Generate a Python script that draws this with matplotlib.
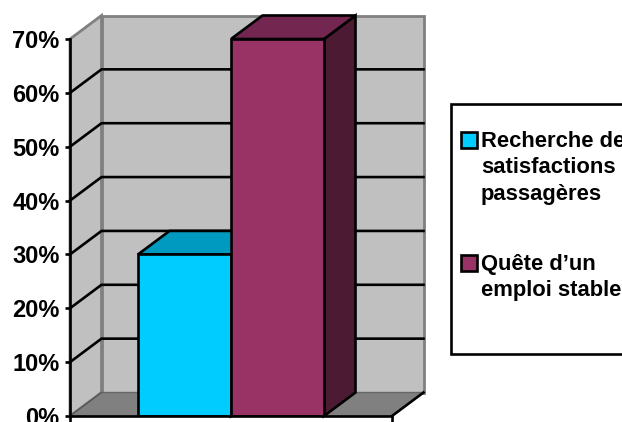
"""3D-look column chart, two categories, legend box cut by the right edge."""
import matplotlib
matplotlib.use("Agg")
import matplotlib.pyplot as plt
from matplotlib.patches import Polygon, Rectangle

plt.rcParams["font.family"] = ["Liberation Sans", "DejaVu Sans"]

W, H = 622, 422

LABELS = ["Recherche de\nsatisfactions\npassagères", "Quête d\u2019un\nemploi stable"]
VALUES = [30, 70]
YTICKS = [0, 10, 20, 30, 40, 50, 60, 70]
FRONT = ["#00CCFF", "#993366"]
TOP = ["#0099BF", "#732650"]
SIDE = ["#0080A0", "#4D1A33"]

BAR_W = 93 / 322
GAP = 68 / 322
# depth of the fake 3D box in data units (31.5 px right, 24 px up)
DX = 31.5 / 322
DY = 23.5 / 377 * 70
YMAX = 70
LW = 1.9

fig = plt.figure(figsize=(W / 100, H / 100), dpi=100, facecolor="white")
ax = fig.add_axes([70 / W, (H - 416) / H, 322 / W, 377 / H])
ax.set_xlim(0, 1)
ax.set_ylim(0, YMAX)
ax.patch.set_visible(False)


def poly(pts, fc, ec, lw, z):
    ax.add_patch(Polygon(pts, closed=True, facecolor=fc, edgecolor=ec, linewidth=lw,
                         zorder=z, clip_on=False, joinstyle="miter"))


# back wall, side wall, floor
poly([(DX, DY), (1 + DX, DY), (1 + DX, YMAX + DY), (DX, YMAX + DY)], "#C0C0C0", "#808080", 2, 1)
poly([(0, 0), (DX, DY), (DX, YMAX + DY), (0, YMAX)], "#C0C0C0", "#808080", 2, 1)
poly([(0, 0), (1, 0), (1 + DX, DY), (DX, DY)], "#808080", "#666666", 1, 1.5)

# gridlines run back along the side wall, then across the back wall
for v in YTICKS[1:-1]:
    ax.plot([0, DX, 1 + DX], [v, v + DY, v + DY], color="black", lw=LW, zorder=2,
            clip_on=False, solid_joinstyle="miter")
ax.plot([1, 1 + DX], [0, DY], color="black", lw=LW, zorder=2, clip_on=False)
ax.plot([0, DX], [0, DY], color="#555555", lw=0.8, zorder=2, clip_on=False)

# columns: front faces from bar(), top and side faces as polygons
for i, v in enumerate(VALUES):
    x0 = GAP + i * BAR_W
    x1 = x0 + BAR_W
    poly([(x1, 0), (x1 + DX, DY), (x1 + DX, v + DY), (x1, v)], SIDE[i], "black", LW, 3 + i)
    poly([(x0, v), (x1, v), (x1 + DX, v + DY), (x0 + DX, v + DY)], TOP[i], "black", LW, 3 + i)
    ax.bar(x0, v, width=BAR_W, align="edge", color=FRONT[i], edgecolor="black",
           linewidth=LW, zorder=3.5 + i)

for s in ["top", "right"]:
    ax.spines[s].set_visible(False)
for s in ["left", "bottom"]:
    ax.spines[s].set_linewidth(LW)
    ax.spines[s].set_zorder(6)

ax.set_yticks(YTICKS)
ax.set_yticklabels([f"{v}%" for v in YTICKS], fontsize=17, fontweight="bold")
ax.tick_params(axis="y", length=3.5, width=LW, pad=4)
ax.set_xticks([0, 1])
ax.set_xticklabels(["", ""])
ax.tick_params(axis="x", length=4.5, width=LW)

# legend box runs off the right edge of the picture
lg = fig.add_axes([0, 0, 1, 1])
lg.set_xlim(0, W)
lg.set_ylim(H, 0)
lg.axis("off")
lg.add_patch(Rectangle((451, 104), 200, 250, facecolor="white", edgecolor="black", linewidth=LW))
SWATCH_Y = [132, 255]
TEXT_Y = [131, 254]
for i, lab in enumerate(LABELS):
    lg.add_patch(Rectangle((461, SWATCH_Y[i]), 16, 16, facecolor=FRONT[i], edgecolor="black", linewidth=LW))
    lg.text(481, TEXT_Y[i], lab, fontsize=15.8, fontweight="bold", va="top", ha="left",
            linespacing=1.33, clip_on=True)

fig.savefig("out.png", dpi=100)
